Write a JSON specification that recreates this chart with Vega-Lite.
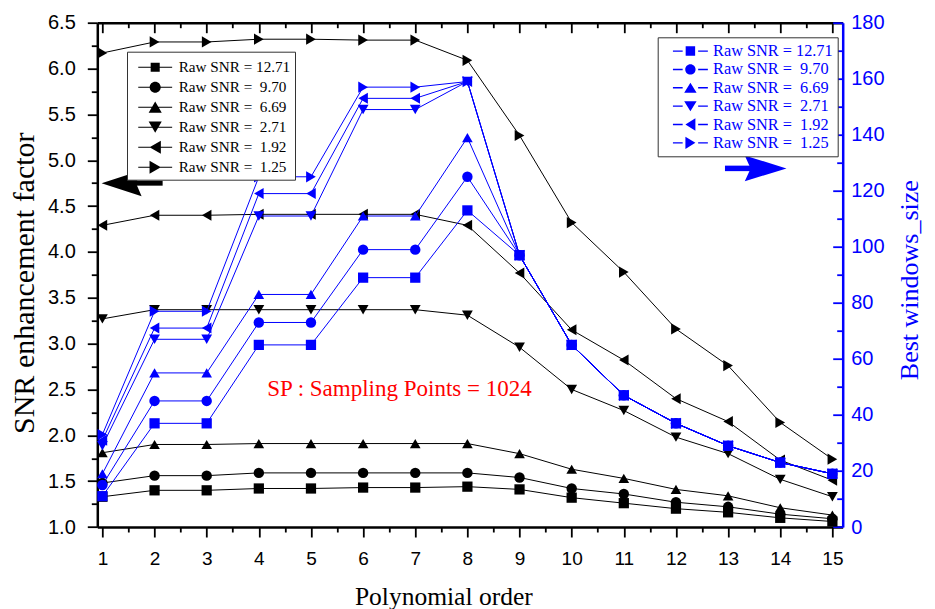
{
  "$schema": "https://vega.github.io/schema/vega-lite/v6.json",
  "width": 745.4,
  "height": 504.3,
  "autosize": {"type": "none"},
  "padding": {"left": 97.3, "top": 22.7, "right": 92.3, "bottom": 82},
  "background": "white",
  "config": {"view": {"stroke": null}, "font": "Liberation Sans"},
  "datasets": {
    "black": [
      {"x": 1, "snr": "12.71", "v": 1.33}, {"x": 2, "snr": "12.71", "v": 1.40}, {"x": 3, "snr": "12.71", "v": 1.40}, {"x": 4, "snr": "12.71", "v": 1.42}, {"x": 5, "snr": "12.71", "v": 1.42}, {"x": 6, "snr": "12.71", "v": 1.43}, {"x": 7, "snr": "12.71", "v": 1.43}, {"x": 8, "snr": "12.71", "v": 1.44}, {"x": 9, "snr": "12.71", "v": 1.41}, {"x": 10, "snr": "12.71", "v": 1.32}, {"x": 11, "snr": "12.71", "v": 1.26}, {"x": 12, "snr": "12.71", "v": 1.20}, {"x": 13, "snr": "12.71", "v": 1.16}, {"x": 14, "snr": "12.71", "v": 1.10}, {"x": 15, "snr": "12.71", "v": 1.06},
      {"x": 1, "snr": "9.70", "v": 1.48}, {"x": 2, "snr": "9.70", "v": 1.56}, {"x": 3, "snr": "9.70", "v": 1.56}, {"x": 4, "snr": "9.70", "v": 1.59}, {"x": 5, "snr": "9.70", "v": 1.59}, {"x": 6, "snr": "9.70", "v": 1.59}, {"x": 7, "snr": "9.70", "v": 1.59}, {"x": 8, "snr": "9.70", "v": 1.59}, {"x": 9, "snr": "9.70", "v": 1.54}, {"x": 10, "snr": "9.70", "v": 1.42}, {"x": 11, "snr": "9.70", "v": 1.36}, {"x": 12, "snr": "9.70", "v": 1.27}, {"x": 13, "snr": "9.70", "v": 1.22}, {"x": 14, "snr": "9.70", "v": 1.14}, {"x": 15, "snr": "9.70", "v": 1.09},
      {"x": 1, "snr": "6.69", "v": 1.81}, {"x": 2, "snr": "6.69", "v": 1.90}, {"x": 3, "snr": "6.69", "v": 1.90}, {"x": 4, "snr": "6.69", "v": 1.91}, {"x": 5, "snr": "6.69", "v": 1.91}, {"x": 6, "snr": "6.69", "v": 1.91}, {"x": 7, "snr": "6.69", "v": 1.91}, {"x": 8, "snr": "6.69", "v": 1.91}, {"x": 9, "snr": "6.69", "v": 1.80}, {"x": 10, "snr": "6.69", "v": 1.63}, {"x": 11, "snr": "6.69", "v": 1.53}, {"x": 12, "snr": "6.69", "v": 1.41}, {"x": 13, "snr": "6.69", "v": 1.34}, {"x": 14, "snr": "6.69", "v": 1.21}, {"x": 15, "snr": "6.69", "v": 1.13},
      {"x": 1, "snr": "2.71", "v": 3.27}, {"x": 2, "snr": "2.71", "v": 3.37}, {"x": 3, "snr": "2.71", "v": 3.37}, {"x": 4, "snr": "2.71", "v": 3.37}, {"x": 5, "snr": "2.71", "v": 3.37}, {"x": 6, "snr": "2.71", "v": 3.37}, {"x": 7, "snr": "2.71", "v": 3.37}, {"x": 8, "snr": "2.71", "v": 3.31}, {"x": 9, "snr": "2.71", "v": 2.96}, {"x": 10, "snr": "2.71", "v": 2.50}, {"x": 11, "snr": "2.71", "v": 2.27}, {"x": 12, "snr": "2.71", "v": 1.98}, {"x": 13, "snr": "2.71", "v": 1.80}, {"x": 14, "snr": "2.71", "v": 1.52}, {"x": 15, "snr": "2.71", "v": 1.33},
      {"x": 1, "snr": "1.92", "v": 4.29}, {"x": 2, "snr": "1.92", "v": 4.40}, {"x": 3, "snr": "1.92", "v": 4.40}, {"x": 4, "snr": "1.92", "v": 4.41}, {"x": 5, "snr": "1.92", "v": 4.41}, {"x": 6, "snr": "1.92", "v": 4.41}, {"x": 7, "snr": "1.92", "v": 4.41}, {"x": 8, "snr": "1.92", "v": 4.29}, {"x": 9, "snr": "1.92", "v": 3.77}, {"x": 10, "snr": "1.92", "v": 3.15}, {"x": 11, "snr": "1.92", "v": 2.82}, {"x": 12, "snr": "1.92", "v": 2.40}, {"x": 13, "snr": "1.92", "v": 2.15}, {"x": 14, "snr": "1.92", "v": 1.73}, {"x": 15, "snr": "1.92", "v": 1.51},
      {"x": 1, "snr": "1.25", "v": 6.17}, {"x": 2, "snr": "1.25", "v": 6.29}, {"x": 3, "snr": "1.25", "v": 6.29}, {"x": 4, "snr": "1.25", "v": 6.32}, {"x": 5, "snr": "1.25", "v": 6.32}, {"x": 6, "snr": "1.25", "v": 6.31}, {"x": 7, "snr": "1.25", "v": 6.31}, {"x": 8, "snr": "1.25", "v": 6.09}, {"x": 9, "snr": "1.25", "v": 5.27}, {"x": 10, "snr": "1.25", "v": 4.32}, {"x": 11, "snr": "1.25", "v": 3.78}, {"x": 12, "snr": "1.25", "v": 3.16}, {"x": 13, "snr": "1.25", "v": 2.76}, {"x": 14, "snr": "1.25", "v": 2.14}, {"x": 15, "snr": "1.25", "v": 1.74}
    ],
    "blue": [
      {"x": 1, "snr": "12.71", "w": 11}, {"x": 2, "snr": "12.71", "w": 37}, {"x": 3, "snr": "12.71", "w": 37}, {"x": 4, "snr": "12.71", "w": 65}, {"x": 5, "snr": "12.71", "w": 65}, {"x": 6, "snr": "12.71", "w": 89}, {"x": 7, "snr": "12.71", "w": 89}, {"x": 8, "snr": "12.71", "w": 113}, {"x": 9, "snr": "12.71", "w": 97}, {"x": 10, "snr": "12.71", "w": 65}, {"x": 11, "snr": "12.71", "w": 47}, {"x": 12, "snr": "12.71", "w": 37}, {"x": 13, "snr": "12.71", "w": 29}, {"x": 14, "snr": "12.71", "w": 23}, {"x": 15, "snr": "12.71", "w": 19},
      {"x": 1, "snr": "9.70", "w": 15}, {"x": 2, "snr": "9.70", "w": 45}, {"x": 3, "snr": "9.70", "w": 45}, {"x": 4, "snr": "9.70", "w": 73}, {"x": 5, "snr": "9.70", "w": 73}, {"x": 6, "snr": "9.70", "w": 99}, {"x": 7, "snr": "9.70", "w": 99}, {"x": 8, "snr": "9.70", "w": 125}, {"x": 9, "snr": "9.70", "w": 97}, {"x": 10, "snr": "9.70", "w": 65}, {"x": 11, "snr": "9.70", "w": 47}, {"x": 12, "snr": "9.70", "w": 37}, {"x": 13, "snr": "9.70", "w": 29}, {"x": 14, "snr": "9.70", "w": 23}, {"x": 15, "snr": "9.70", "w": 19},
      {"x": 1, "snr": "6.69", "w": 19}, {"x": 2, "snr": "6.69", "w": 55}, {"x": 3, "snr": "6.69", "w": 55}, {"x": 4, "snr": "6.69", "w": 83}, {"x": 5, "snr": "6.69", "w": 83}, {"x": 6, "snr": "6.69", "w": 111}, {"x": 7, "snr": "6.69", "w": 111}, {"x": 8, "snr": "6.69", "w": 139}, {"x": 9, "snr": "6.69", "w": 97}, {"x": 10, "snr": "6.69", "w": 65}, {"x": 11, "snr": "6.69", "w": 47}, {"x": 12, "snr": "6.69", "w": 37}, {"x": 13, "snr": "6.69", "w": 29}, {"x": 14, "snr": "6.69", "w": 23}, {"x": 15, "snr": "6.69", "w": 19},
      {"x": 1, "snr": "2.71", "w": 29}, {"x": 2, "snr": "2.71", "w": 67}, {"x": 3, "snr": "2.71", "w": 67}, {"x": 4, "snr": "2.71", "w": 111}, {"x": 5, "snr": "2.71", "w": 111}, {"x": 6, "snr": "2.71", "w": 149}, {"x": 7, "snr": "2.71", "w": 149}, {"x": 8, "snr": "2.71", "w": 159}, {"x": 9, "snr": "2.71", "w": 97}, {"x": 10, "snr": "2.71", "w": 65}, {"x": 11, "snr": "2.71", "w": 47}, {"x": 12, "snr": "2.71", "w": 37}, {"x": 13, "snr": "2.71", "w": 29}, {"x": 14, "snr": "2.71", "w": 23}, {"x": 15, "snr": "2.71", "w": 19},
      {"x": 1, "snr": "1.92", "w": 31}, {"x": 2, "snr": "1.92", "w": 71}, {"x": 3, "snr": "1.92", "w": 71}, {"x": 4, "snr": "1.92", "w": 119}, {"x": 5, "snr": "1.92", "w": 119}, {"x": 6, "snr": "1.92", "w": 153}, {"x": 7, "snr": "1.92", "w": 153}, {"x": 8, "snr": "1.92", "w": 159}, {"x": 9, "snr": "1.92", "w": 97}, {"x": 10, "snr": "1.92", "w": 65}, {"x": 11, "snr": "1.92", "w": 47}, {"x": 12, "snr": "1.92", "w": 37}, {"x": 13, "snr": "1.92", "w": 29}, {"x": 14, "snr": "1.92", "w": 23}, {"x": 15, "snr": "1.92", "w": 19},
      {"x": 1, "snr": "1.25", "w": 33}, {"x": 2, "snr": "1.25", "w": 77}, {"x": 3, "snr": "1.25", "w": 77}, {"x": 4, "snr": "1.25", "w": 125}, {"x": 5, "snr": "1.25", "w": 125}, {"x": 6, "snr": "1.25", "w": 157}, {"x": 7, "snr": "1.25", "w": 157}, {"x": 8, "snr": "1.25", "w": 159}, {"x": 9, "snr": "1.25", "w": 97}, {"x": 10, "snr": "1.25", "w": 65}, {"x": 11, "snr": "1.25", "w": 47}, {"x": 12, "snr": "1.25", "w": 37}, {"x": 13, "snr": "1.25", "w": 29}, {"x": 14, "snr": "1.25", "w": 23}, {"x": 15, "snr": "1.25", "w": 19}
    ]
  },
  "layer": [
    {
      "data": {"name": "black"},
      "mark": {"type": "line", "color": "black", "strokeWidth": 1},
      "encoding": {
        "x": {"field": "x", "type": "quantitative", "scale": {"domain": [0.902, 15.198], "nice": false, "zero": false},
          "axis": {"orient": "bottom", "values": [1,2,3,4,5,6,7,8,9,10,11,12,13,14,15], "format": "d", "tickSize": 10, "tickWidth": 1.8, "tickColor": "black", "domainColor": "black", "domainWidth": 2.5, "labelFont": "Liberation Sans", "labelFontSize": 19, "labelColor": "black", "labelPadding": 12, "labelFlush": false, "labelOverlap": false, "grid": false,
            "title": "Polynomial order", "titleFont": "Liberation Serif", "titleFontSize": 25.5, "titleFontWeight": "normal", "titleColor": "black", "titleX": 346, "titleY": 77, "titleBaseline": "alphabetic", "titleAlign": "center"}},
        "y": {"field": "v", "type": "quantitative", "scale": {"domain": [1, 6.5], "nice": false, "zero": false},
          "axis": {"orient": "left", "values": [1,1.5,2,2.5,3,3.5,4,4.5,5,5.5,6,6.5], "format": ".1f", "tickSize": 10, "tickWidth": 1.8, "tickColor": "black", "domainColor": "black", "domainWidth": 2.5, "labelFont": "Liberation Sans", "labelFontSize": 20, "labelColor": "black", "labelPadding": 12, "labelOverlap": false, "grid": false,
            "title": "SNR enhancement factor", "titleFont": "Liberation Serif", "titleFontSize": 30, "titleFontWeight": "normal", "titleColor": "black", "titleX": -64, "titleY": 260, "titleAngle": 270, "titleBaseline": "alphabetic", "titleAlign": "center"}},
        "detail": {"field": "snr", "type": "nominal"}
      }
    },
    {
      "data": {"name": "black"},
      "mark": {"type": "point", "filled": true, "color": "black", "opacity": 1},
      "encoding": {
        "x": {"field": "x", "type": "quantitative", "axis": {"orient": "bottom", "values": [1.5,2.5,3.5,4.5,5.5,6.5,7.5,8.5,9.5,10.5,11.5,12.5,13.5,14.5], "tickSize": 5, "tickWidth": 1.8, "tickColor": "black", "labels": false, "domain": false, "grid": false, "title": null}},
        "y": {"field": "v", "type": "quantitative", "scale": {"domain": [1, 6.5], "nice": false, "zero": false}, "axis": {"orient": "left", "values": [1.25,1.75,2.25,2.75,3.25,3.75,4.25,4.75,5.25,5.75,6.25], "tickSize": 6, "tickWidth": 1.8, "tickColor": "black", "labels": false, "domain": false, "grid": false, "title": null}},
        "shape": {"field": "snr", "type": "nominal", "scale": {"domain": ["12.71","9.70","6.69","2.71","1.92","1.25"], "range": ["square","circle","triangle-up","triangle-down","triangle-left","triangle-right"]}, "legend": null},
        "size": {"field": "snr", "type": "ordinal", "scale": {"domain": ["12.71","9.70","6.69","2.71","1.92","1.25"], "range": [105, 125, 170, 170, 165, 165]}, "legend": null}
      }
    },
    {
      "data": {"name": "blue"},
      "mark": {"type": "line", "color": "#0000ff", "strokeWidth": 1},
      "encoding": {
        "x": {"field": "x", "type": "quantitative", "axis": {"orient": "top", "values": [1,2,3,4,5,6,7,8,9,10,11,12,13,14,15], "tickSize": -10, "tickWidth": 1.8, "tickColor": "black", "domainColor": "black", "domainWidth": 2.5, "labels": false, "grid": false, "title": null}},
        "y": {"field": "w", "type": "quantitative", "scale": {"domain": [0, 180], "nice": false, "zero": false},
          "axis": {"orient": "right", "values": [0,20,40,60,80,100,120,140,160,180], "format": "d", "tickSize": -10, "tickWidth": 1.8, "tickColor": "#0000ff", "domainColor": "#0000ff", "domainWidth": 2.5, "labelFont": "Liberation Sans", "labelFontSize": 20, "labelColor": "#0000ff", "labelPadding": 18, "labelOverlap": false, "grid": false,
            "title": "Best windows_size", "titleFont": "Liberation Serif", "titleFontSize": 26, "titleFontWeight": "normal", "titleColor": "#0000ff", "titleX": 75, "titleY": 257, "titleAngle": 270, "titleBaseline": "alphabetic", "titleAlign": "center"}},
        "detail": {"field": "snr", "type": "nominal"}
      }
    },
    {
      "data": {"name": "blue"},
      "mark": {"type": "point", "filled": true, "color": "#0000ff", "opacity": 1},
      "encoding": {
        "x": {"field": "x", "type": "quantitative", "axis": {"orient": "top", "values": [1.5,2.5,3.5,4.5,5.5,6.5,7.5,8.5,9.5,10.5,11.5,12.5,13.5,14.5], "tickSize": -5, "tickWidth": 1.8, "tickColor": "black", "labels": false, "domain": false, "grid": false, "title": null}},
        "y": {"field": "w", "type": "quantitative", "scale": {"domain": [0, 180], "nice": false, "zero": false}, "axis": {"orient": "right", "values": [10,30,50,70,90,110,130,150,170], "tickSize": -6, "tickWidth": 1.8, "tickColor": "#0000ff", "labels": false, "domain": false, "grid": false, "title": null}},
        "shape": {"field": "snr", "type": "nominal", "scale": {"domain": ["12.71","9.70","6.69","2.71","1.92","1.25"], "range": ["square","circle","triangle-up","triangle-down","triangle-left","triangle-right"]}, "legend": null},
        "size": {"field": "snr", "type": "ordinal", "scale": {"domain": ["12.71","9.70","6.69","2.71","1.92","1.25"], "range": [105, 125, 170, 170, 165, 165]}, "legend": null}
      }
    },
    {
      "data": {"name": "black"},
      "mark": {"type": "point", "filled": true, "color": "black", "opacity": 0},
      "encoding": {
        "shape": {"field": "snr", "type": "nominal",
          "scale": {"domain": ["12.71","9.70","6.69","2.71","1.92","1.25"],
            "range": [
              "M-1.5,-0.045H1.5V0.045H-1.5Z M-0.4,-0.4H0.4V0.4H-0.4Z",
              "M-1.5,-0.045H1.5V0.045H-1.5Z M-0.49,0A0.49,0.49,0,1,1,0.49,0A0.49,0.49,0,1,1,-0.49,0Z",
              "M-1.5,-0.045H1.5V0.045H-1.5Z M0,-0.5L0.58,0.5H-0.58Z",
              "M-1.5,-0.045H1.5V0.045H-1.5Z M0,0.5L-0.58,-0.5H0.58Z",
              "M-1.5,-0.045H1.5V0.045H-1.5Z M-0.5,0L0.5,-0.58V0.58Z",
              "M-1.5,-0.045H1.5V0.045H-1.5Z M0.5,0L-0.5,0.58V-0.58Z"
            ]},
          "legend": {"orient": "none", "legendX": 29.7, "legendY": 29, "title": null, "symbolSize": 511, "symbolOffset": 12.7, "symbolStrokeWidth": 0, "symbolFillColor": "black", "symbolOpacity": 1, "labelFont": "Liberation Serif", "labelFontSize": 15.2, "labelColor": "black", "labelOffset": 12, "labelLimit": 300, "rowPadding": -2.5, "padding": 4, "strokeColor": "#333333", "fillColor": "white",
            "labelExpr": "'Raw SNR = ' + (length(datum.label) < 5 ? '\u00a0' : '') + datum.label"}
        }
      }
    },
    {
      "data": {"name": "blue"},
      "mark": {"type": "point", "filled": true, "color": "#0000ff", "opacity": 0},
      "encoding": {
        "shape": {"field": "snr", "type": "nominal",
          "scale": {"domain": ["12.71","9.70","6.69","2.71","1.92","1.25"],
            "range": [
              "M-2.03,-0.08H-0.9V0.08H-2.03Z M0.9,-0.08H2.03V0.08H0.9Z M-0.55,-0.55H0.55V0.55H-0.55Z",
              "M-2.03,-0.08H-0.9V0.08H-2.03Z M0.9,-0.08H2.03V0.08H0.9Z M-0.6,0A0.6,0.6,0,1,1,0.6,0A0.6,0.6,0,1,1,-0.6,0Z",
              "M-2.03,-0.08H-0.9V0.08H-2.03Z M0.9,-0.08H2.03V0.08H0.9Z M0,-0.58L0.72,0.58H-0.72Z",
              "M-2.03,-0.08H-0.9V0.08H-2.03Z M0.9,-0.08H2.03V0.08H0.9Z M0,0.58L-0.72,-0.58H0.72Z",
              "M-2.03,-0.08H-0.9V0.08H-2.03Z M0.9,-0.08H2.03V0.08H0.9Z M-0.58,0L0.58,-0.72V0.72Z",
              "M-2.03,-0.08H-0.9V0.08H-2.03Z M0.9,-0.08H2.03V0.08H0.9Z M0.58,0L-0.58,0.72V-0.72Z"
            ]},
          "legend": {"orient": "none", "legendX": 560.4, "legendY": 14.6, "title": null, "symbolSize": 296, "symbolOffset": 18.9, "symbolStrokeWidth": 0, "symbolFillColor": "#0000ff", "symbolOpacity": 1, "labelFont": "Liberation Serif", "labelFontSize": 16.3, "labelColor": "#0000ff", "labelOffset": 13.7, "labelLimit": 300, "rowPadding": 0.35, "padding": 4.8, "strokeColor": "#333333", "fillColor": "white",
            "labelExpr": "'Raw SNR = ' + (length(datum.label) < 5 ? '\u00a0' : '') + datum.label"}
        }
      }
    },
    {
      "data": {"values": [{"x": 4.16, "v": 2.5, "label": "SP : Sampling Points = 1024"}]},
      "mark": {"type": "text", "align": "left", "baseline": "middle", "font": "Liberation Serif", "fontSize": 23, "color": "#ff0000"},
      "encoding": {
        "x": {"field": "x", "type": "quantitative", "axis": null},
        "y": {"field": "v", "type": "quantitative", "scale": {"domain": [1, 6.5], "nice": false, "zero": false}, "axis": null},
        "text": {"field": "label"}
      }
    },
    {
      "data": {"values": [{"x": 1.6, "x2": 2.155, "v": 4.75}]},
      "mark": {"type": "rule", "color": "black", "strokeWidth": 5},
      "encoding": {
        "x": {"field": "x", "type": "quantitative", "axis": null},
        "x2": {"field": "x2"},
        "y": {"field": "v", "type": "quantitative", "scale": {"domain": [1, 6.5], "nice": false, "zero": false}, "axis": null}
      }
    },
    {
      "data": {"values": [{"x": 1.368, "v": 4.75}]},
      "mark": {"type": "point", "filled": true, "color": "black", "opacity": 1, "size": 1600, "shape": "M-1,0L1,-0.65L0.72,0L1,0.65Z"},
      "encoding": {
        "x": {"field": "x", "type": "quantitative", "axis": null},
        "y": {"field": "v", "type": "quantitative", "scale": {"domain": [1, 6.5], "nice": false, "zero": false}, "axis": null}
      }
    },
    {
      "data": {"values": [{"x": 12.94, "x2": 13.5, "w": 128}]},
      "mark": {"type": "rule", "color": "#0000ff", "strokeWidth": 5.5},
      "encoding": {
        "x": {"field": "x", "type": "quantitative", "axis": null},
        "x2": {"field": "x2"},
        "y": {"field": "w", "type": "quantitative", "scale": {"domain": [0, 180], "nice": false, "zero": false}, "axis": null}
      }
    },
    {
      "data": {"values": [{"x": 13.72, "w": 128}]},
      "mark": {"type": "point", "filled": true, "color": "#0000ff", "opacity": 1, "size": 1739, "shape": "M1,0L-1,-0.62L-0.72,0L-1,0.62Z"},
      "encoding": {
        "x": {"field": "x", "type": "quantitative", "axis": null},
        "y": {"field": "w", "type": "quantitative", "scale": {"domain": [0, 180], "nice": false, "zero": false}, "axis": null}
      }
    }
  ],
  "resolve": {
    "scale": {"y": "independent", "shape": "independent", "size": "independent"},
    "axis": {"x": "independent", "y": "independent"},
    "legend": {"shape": "independent"}
  }
}
